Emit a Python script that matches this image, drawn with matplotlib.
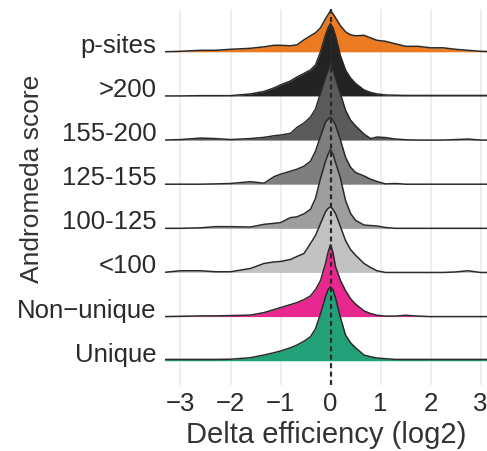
import matplotlib
matplotlib.use("Agg")
import matplotlib.pyplot as plt
import numpy as np

plt.rcParams['font.family'] = ['Liberation Sans', 'DejaVu Sans']

# ---- data ----
categories = ["Unique", "Non\u2212unique", "<100", "100-125", "125-155", "155-200", ">200", "p-sites"]
colors = ["#22A078", "#E8288E", "#C2C2C2", "#9E9E9E", "#7F7F7F", "#5A5A5A", "#232323", "#EB7A20"]

x_grid = [-3.35, -3.0, -2.6, -2.3, -2.0, -1.6, -1.33, -1.13, -1.0, -0.8, -0.67, -0.53, -0.4,
          -0.3, -0.2, -0.1, -0.05, 0.0, 0.05, 0.1, 0.2, 0.3, 0.4, 0.5, 0.67, 0.8, 0.93,
          1.1, 1.3, 1.5, 1.75, 2.0, 2.25, 2.5, 2.75, 3.0, 3.35]

# relative density heights
dens_unique = [1.3, 1.3, 1.3, 1.3, 1.5, 3, 5.7, 8, 9.7, 13, 15.7, 19.5, 24,
               32, 47, 64, 71, 74, 71, 63, 43, 25.7, 18, 13, 5.7, 4, 2.7,
               2, 1.3, 1.3, 1.3, 1.3, 1.3, 1.3, 1.3, 1.3, 1.3]
dens_nonunique = [0, 0.3, 0.7, 0.7, 1, 1.5, 4, 7, 9, 12, 14, 17, 20.7,
                  27, 36, 53, 64, 72, 64, 50, 36, 26, 18, 12.5, 5.7, 3, 1.3,
                  0.5, 0.5, 1.3, 0.5, 0, 0, 0, 0, 0, 0]
dens_lt100 = [0, 1.7, 1.7, 0.7, 0.7, 4, 9, 10.5, 11, 13, 16, 19, 29,
              37, 49, 60.7, 64, 65.7, 63, 59, 45.7, 32, 23, 17.3, 9, 5, 1.7,
              0, 0, 0, 0, 0, 0, 0.5, 1.7, 0, 0]
dens_100_125 = [0, 0, 0.5, 1.7, 1.7, 1.3, 4, 5, 5.7, 10.7, 11.5, 14.5, 19,
                30, 50, 67, 74, 79, 74, 66, 50, 28, 15, 8, 3.3, 2.8, 2.3,
                0.8, 0, 0, 0, 0, 0, 0, 0, 0, 0]
dens_125_155 = [0, 0, 0, 0.3, 0.7, 2.5, 1, 7.5, 10, 13, 15, 18, 23,
                33, 48, 62, 65, 66.7, 64, 59, 44, 27, 17, 11.7, 8.3, 5, 2.7,
                0.3, 0.7, 0, 0, 0, 0, 0, 0, 0, 0]
dens_155_200 = [0, 0.5, 2, 1.5, 0.5, 1.5, 2.7, 4.3, 5, 6.7, 12.7, 17, 23,
                31, 47, 63, 70, 76, 70, 62, 46, 30, 20, 14.3, 6, 1.5, 3,
                2.5, 1, 0.3, 0, 0, 0, 0.5, 1, 0, 0]
dens_gt200 = [0, 0, 0.3, 0.3, 0.3, 2, 4.5, 8, 11, 15, 19, 22.5, 26,
              31, 44, 61, 68, 72.5, 68, 60, 40, 26, 18, 12.5, 6, 3.5, 2,
              1, 0.7, 0.5, 0.5, 0.5, 0.5, 0.5, 0.5, 0.5, 0.5]
dens_psites = [0, 0.5, 1.5, 1.5, 2.5, 3.5, 5, 6.5, 6.5, 6, 7, 12, 16,
               19, 24, 33, 37, 41, 38, 34, 26, 20, 17, 16, 16.5, 14, 11.5,
               10.5, 8, 5.5, 5.5, 4, 4, 2.5, 1.5, 0.5, 0]

densities = [dens_unique, dens_nonunique, dens_lt100, dens_100_125,
             dens_125_155, dens_155_200, dens_gt200, dens_psites]

x_ticks = [-3, -2, -1, 0, 1, 2, 3]
x_tick_labels = ["\u22123", "\u22122", "\u22121", "0", "1", "2", "3"]

# ---- plot ----
W, H = 487, 452
fig = plt.figure(figsize=(W / 100, H / 100), dpi=100)
ax = fig.add_axes([165 / W, (H - 386) / H, 322 / W, 376 / H])

scale = 1 / 44.14
xs = np.array(x_grid)
n = len(categories)
for i in range(n - 1, -1, -1):
    d = np.array(densities[i]) * scale
    z = 10 + (n - i) * 2
    ax.fill_between(xs, i, i + d, color=colors[i], lw=0, zorder=z)
    ax.plot(xs, i + d, color="#2a2a2a", lw=1.1, zorder=z + 1, solid_joinstyle='round')

ax.axvline(0, color="#2a2a2a", lw=1.6, ls=(0, (2.2, 1.6)), zorder=50)

ax.set_xlim(-3.31, 3.13)
ax.set_ylim(-0.55, 7.97)
ax.set_xticks(x_ticks)
ax.set_xticklabels(x_tick_labels)
ax.set_yticks(range(n))
ax.set_yticklabels(categories)
for lbl in ax.get_yticklabels():
    lbl.set_va('baseline')

ax.grid(axis='x', color="#EBEBEB", lw=1.2, zorder=0)
ax.set_axisbelow(True)
for s in ax.spines.values():
    s.set_visible(False)
ax.tick_params(axis='both', length=0, labelsize=18.5, colors="#2a2a2a")
ax.tick_params(axis='x', pad=4)
ax.tick_params(axis='y', pad=6)

ax.set_xlabel("Delta efficiency (log2)", fontsize=21, color="#333333", labelpad=4)
ax.set_ylabel("Andromeda score", fontsize=19, color="#333333")
ax.yaxis.set_label_coords(-0.375, 0.55)

fig.savefig("out.png", dpi=100)
